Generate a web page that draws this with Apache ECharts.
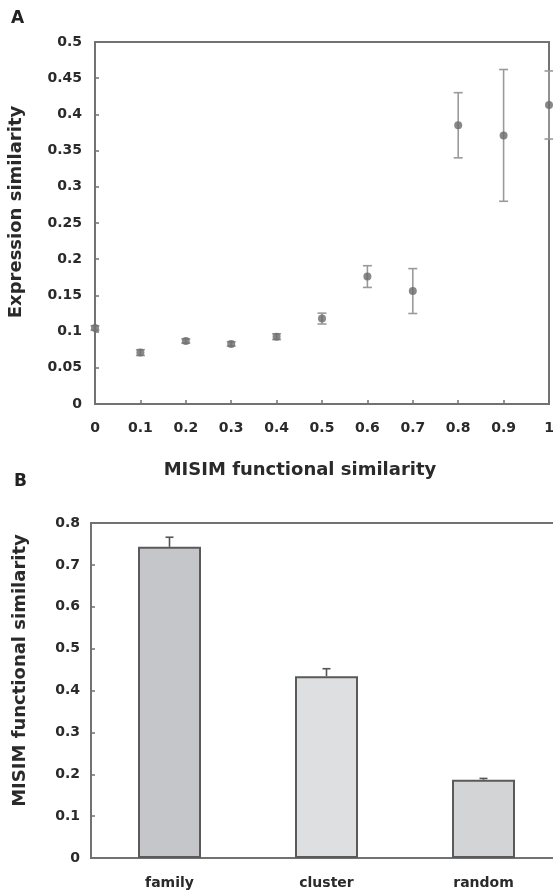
<!DOCTYPE html>
<html>
<head>
<meta charset="utf-8">
<script src="https://cdn.jsdelivr.net/npm/echarts@6/dist/echarts.min.js"></script>
<style>
html,body{margin:0;padding:0;background:#fff;}
#chart{width:553px;height:894px;}
</style>
</head>
<body>
<div id="chart"></div>
<script>
// Panel A data
const misimX = [0, 0.1, 0.2, 0.3, 0.4, 0.5, 0.6, 0.7, 0.8, 0.9, 1.0];
const exprMean = [0.105, 0.071, 0.087, 0.083, 0.093, 0.118, 0.176, 0.156, 0.385, 0.371, 0.413];
const exprErr = [0.003, 0.004, 0.003, 0.003, 0.004, 0.0075, 0.015, 0.031, 0.045, 0.091, 0.047];
const xTickLabels = ['0', '0.1', '0.2', '0.3', '0.4', '0.5', '0.6', '0.7', '0.8', '0.9', '1'];

// Panel B data
const groups = ['family', 'cluster', 'random'];
const groupMean = [0.743, 0.434, 0.187];
const groupErr = [0.023, 0.018, 0.003];
const groupColors = ['#c5c6c9', '#dedfe1', '#d3d4d6'];

const FONT = 'DejaVu Sans';
const axisCol = '#727272';
const txtCol = '#2a2a2a';

const chart = echarts.init(document.getElementById('chart'));

const errA = misimX.map((x, i) => [x, exprMean[i], exprErr[i]]);
const errB = groups.map((g, i) => [i, groupMean[i], groupErr[i]]);

chart.setOption({
  animation: false,
  backgroundColor: '#ffffff',
  textStyle: { fontFamily: FONT },
  graphic: [
    { type: 'text', left: 11, top: 10, style: { text: 'A', font: 'bold 17px "DejaVu Sans"', fill: '#222' } },
    { type: 'text', left: 14, top: 473, style: { text: 'B', font: 'bold 17px "DejaVu Sans"', fill: '#222' } }
  ],
  grid: [
    { left: 95, top: 42, width: 454, height: 362, outerBoundsMode: 'none', containLabel: false, show: true, borderColor: axisCol, borderWidth: 2, backgroundColor: 'transparent' },
    { left: 91, top: 523, width: 471, height: 335, outerBoundsMode: 'none', containLabel: false, show: true, borderColor: axisCol, borderWidth: 2, backgroundColor: 'transparent' }
  ],
  xAxis: [
    {
      gridIndex: 0, type: 'value', min: 0, max: 1, interval: 0.1,
      name: 'MISIM functional similarity', nameLocation: 'middle', nameGap: 57,
      nameTextStyle: { fontFamily: FONT, fontWeight: 'bold', fontSize: 18, color: txtCol, padding: [0, 44, 0, 0] },
      axisLine: { lineStyle: { color: axisCol, width: 2 } },
      axisTick: { inside: true, length: 4, lineStyle: { color: axisCol, width: 1.5 } },
      splitLine: { show: false },
      axisLabel: {
        margin: 17, fontFamily: FONT, fontWeight: 'bold', fontSize: 14, color: txtCol,
        formatter: v => xTickLabels[Math.round(v * 10)]
      }
    },
    {
      gridIndex: 1, type: 'category', data: groups,
      axisLine: { lineStyle: { color: axisCol, width: 2 } },
      axisTick: { inside: true, length: 4, lineStyle: { color: axisCol, width: 1.5 } },
      splitLine: { show: false },
      axisLabel: { margin: 18, fontFamily: FONT, fontWeight: 'bold', fontSize: 14, color: txtCol }
    }
  ],
  yAxis: [
    {
      gridIndex: 0, type: 'value', min: 0, max: 0.5, interval: 0.05,
      name: 'Expression similarity', nameLocation: 'middle', nameGap: 70,
      nameTextStyle: { fontFamily: FONT, fontWeight: 'bold', fontSize: 18, color: txtCol, padding: [0, 0, 0, 22] },
      axisLine: { show: true, lineStyle: { color: axisCol, width: 2 } },
      axisTick: { show: true, inside: true, length: 4, lineStyle: { color: axisCol, width: 1.5 } },
      splitLine: { show: false },
      axisLabel: { margin: 13, fontFamily: FONT, fontWeight: 'bold', fontSize: 14, color: txtCol }
    },
    {
      gridIndex: 1, type: 'value', min: 0, max: 0.8, interval: 0.1,
      name: 'MISIM functional similarity', nameLocation: 'middle', nameGap: 62,
      nameTextStyle: { fontFamily: FONT, fontWeight: 'bold', fontSize: 18, color: txtCol, padding: [0, 0, 0, 40] },
      axisLine: { show: true, lineStyle: { color: axisCol, width: 2 } },
      axisTick: { show: true, inside: true, length: 4, lineStyle: { color: axisCol, width: 1.5 } },
      splitLine: { show: false },
      axisLabel: { margin: 11, fontFamily: FONT, fontWeight: 'bold', fontSize: 14, color: txtCol }
    }
  ],
  series: [
    {
      type: 'custom', xAxisIndex: 0, yAxisIndex: 0, data: errA, z: 2,
      renderItem: function (params, api) {
        const x = api.value(0), y = api.value(1), e = api.value(2);
        const t = api.coord([x, y + e]);
        const b = api.coord([x, y - e]);
        const w = 4.5;
        const st = { stroke: '#9a9a9a', lineWidth: 1.6 };
        return {
          type: 'group',
          children: [
            { type: 'line', shape: { x1: t[0], y1: t[1], x2: b[0], y2: b[1] }, style: st },
            { type: 'line', shape: { x1: t[0] - w, y1: t[1], x2: t[0] + w, y2: t[1] }, style: st },
            { type: 'line', shape: { x1: b[0] - w, y1: b[1], x2: b[0] + w, y2: b[1] }, style: st }
          ]
        };
      }
    },
    {
      type: 'scatter', xAxisIndex: 0, yAxisIndex: 0, z: 3, clip: false,
      data: misimX.map((x, i) => [x, exprMean[i]]),
      symbol: 'circle', symbolSize: 8,
      itemStyle: { color: '#6a6a6a' }
    },
    {
      type: 'bar', xAxisIndex: 1, yAxisIndex: 1, barWidth: 63, z: 2,
      data: groupMean.map((v, i) => ({ value: v, itemStyle: { color: groupColors[i] } })),
      itemStyle: { borderColor: '#5a5a5a', borderWidth: 2 }
    },
    {
      type: 'custom', xAxisIndex: 1, yAxisIndex: 1, data: errB, z: 3,
      renderItem: function (params, api) {
        const x = api.value(0), y = api.value(1), e = api.value(2);
        const t = api.coord([x, y + e]);
        const b = api.coord([x, y]);
        const w = 4;
        const st = { stroke: '#555555', lineWidth: 1.6 };
        return {
          type: 'group',
          children: [
            { type: 'line', shape: { x1: t[0], y1: t[1], x2: b[0], y2: b[1] }, style: st },
            { type: 'line', shape: { x1: t[0] - w, y1: t[1], x2: t[0] + w, y2: t[1] }, style: st }
          ]
        };
      }
    }
  ]
});
</script>
</body>
</html>
